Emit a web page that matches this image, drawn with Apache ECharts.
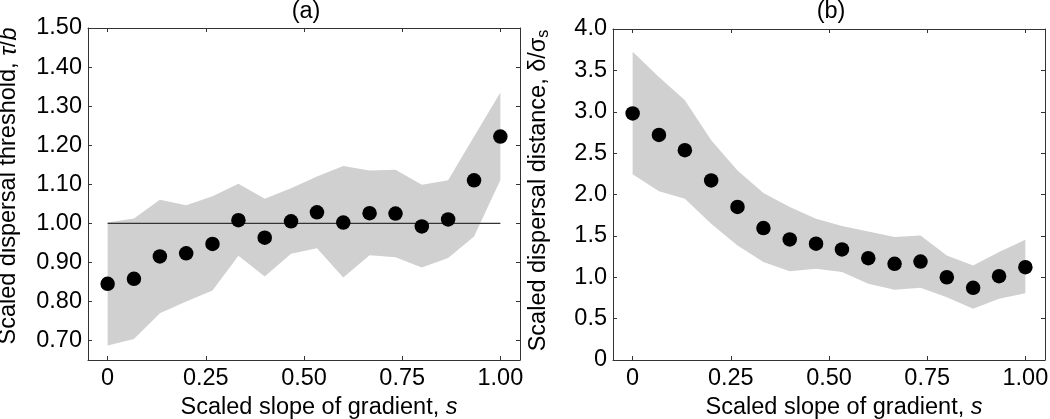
<!DOCTYPE html>
<html><head><meta charset="utf-8">
<script src="https://cdn.jsdelivr.net/npm/echarts@6/dist/echarts.min.js"></script>
<style>html,body{margin:0;padding:0;background:#fff}#c{width:1050px;height:419px}</style>
</head><body><div id="c"></div>
<script>
// Data
const slopes = [0, 0.067, 0.133, 0.2, 0.267, 0.333, 0.4, 0.467, 0.533, 0.6, 0.667, 0.733, 0.8, 0.867, 0.933, 1.0];
const thresholdMean  = [0.845, 0.858, 0.915, 0.923, 0.947, 1.008, 0.963, 1.005, 1.028, 1.002, 1.026, 1.025, 0.992, 1.010, 1.110, 1.222];
const thresholdUpper = [1.002, 1.012, 1.060, 1.046, 1.069, 1.101, 1.063, 1.090, 1.120, 1.147, 1.135, 1.137, 1.099, 1.110, 1.222, 1.335];
const thresholdLower = [0.687, 0.704, 0.770, 0.800, 0.828, 0.917, 0.864, 0.922, 0.936, 0.861, 0.918, 0.913, 0.887, 0.911, 0.966, 1.111];
const distanceMean  = [2.98, 2.72, 2.535, 2.17, 1.85, 1.594, 1.457, 1.405, 1.336, 1.231, 1.162, 1.19, 1.0, 0.872, 1.013, 1.122];
const distanceUpper = [3.725, 3.42, 3.14, 2.656, 2.29, 2.018, 1.849, 1.707, 1.619, 1.554, 1.485, 1.506, 1.263, 1.142, 1.304, 1.453];
const distanceLower = [2.244, 2.038, 1.95, 1.647, 1.384, 1.183, 1.074, 1.102, 1.062, 0.92, 0.848, 0.872, 0.759, 0.618, 0.739, 0.807];
const referenceLine = [[0, 1.0], [1.0, 1.0]];
const xTicks = [0, 0.25, 0.5, 0.75, 1.0];
const yTicksA = [0.7, 0.8, 0.9, 1.0, 1.1, 1.2, 1.3, 1.4, 1.5];
const yTicksB = [0, 0.5, 1.0, 1.5, 2.0, 2.5, 3.0, 3.5, 4.0];

const FONT = '"Liberation Sans", Arial, Helvetica, sans-serif';
const FS = 23.5;
const AX = '#333';

function xFmt(v){ return Math.abs(v) < 1e-9 ? '0' : v.toFixed(2); }
function yFmtA(v){ return v.toFixed(2); }
function yFmtB(v){ return Math.abs(v) < 1e-9 ? '0' : v.toFixed(1); }

function xAxes(gi){
  return [
    { type:'value', gridIndex:gi, position:'bottom', min:-0.05, max:1.05,
      axisLine:{show:true, onZero:false, lineStyle:{color:AX, width:1}},
      axisTick:{show:true, inside:true, length:4, customValues:xTicks, lineStyle:{color:AX}},
      axisLabel:{show:true, customValues:xTicks, formatter:xFmt, color:'#000', fontSize:FS, fontFamily:FONT, margin:7},
      splitLine:{show:false},
      name:'Scaled slope of gradient, {i|s}', nameLocation:'middle', nameGap:30,
      nameTextStyle:{color:'#000', fontSize:FS, fontFamily:FONT, padding:[0,0,0,30],
        rich:{i:{fontStyle:'italic', fontSize:FS, fontFamily:FONT, color:'#000'}}}
    },
    { type:'value', gridIndex:gi, position:'top', min:-0.05, max:1.05,
      axisLine:{show:true, onZero:false, lineStyle:{color:AX, width:1}},
      axisTick:{show:true, inside:true, length:4, customValues:xTicks, lineStyle:{color:AX}},
      axisLabel:{show:false}, splitLine:{show:false}
    }
  ];
}
function yAxes(gi, min, max, ticks, fmt, name, rich, gap, shift){
  return [
    { type:'value', gridIndex:gi, position:'left', min:min, max:max,
      axisLine:{show:true, onZero:false, lineStyle:{color:AX, width:1}},
      axisTick:{show:true, inside:true, length:4, customValues:ticks, lineStyle:{color:AX}},
      axisLabel:{show:true, customValues:ticks, formatter:fmt, color:'#000', fontSize:FS, fontFamily:FONT, margin:6},
      splitLine:{show:false},
      name:name, nameLocation:'middle', nameGap:gap,
      nameTextStyle:{color:'#000', fontSize:FS, fontFamily:FONT, padding:[0,0,0,shift], rich:rich}
    },
    { type:'value', gridIndex:gi, position:'right', min:min, max:max,
      axisLine:{show:true, onZero:false, lineStyle:{color:AX, width:1}},
      axisTick:{show:true, inside:true, length:4, customValues:ticks, lineStyle:{color:AX}},
      axisLabel:{show:false}, splitLine:{show:false}
    }
  ];
}

function band(xi, yi, lower, upper){
  return {
    type:'custom', xAxisIndex:xi, yAxisIndex:yi, silent:true, clip:true, z:1,
    data: slopes.map((x,i)=>[x, lower[i], upper[i]]),
    renderItem: function(params, api){
      if (params.dataIndex !== 0) return null;
      const pts = [];
      for (let i=0;i<slopes.length;i++) pts.push(api.coord([slopes[i], upper[i]]));
      for (let i=slopes.length-1;i>=0;i--) pts.push(api.coord([slopes[i], lower[i]]));
      return { type:'polygon', shape:{points:pts}, style:{fill:'#d0d0d0', stroke:null} };
    }
  };
}

const chart = echarts.init(document.getElementById('c'), null, {renderer:'canvas'});
const italic = {fontStyle:'italic', fontSize:FS, fontFamily:FONT, color:'#000'};
chart.setOption({
  animation:false,
  backgroundColor:'#fff',
  title:[
    {text:'(a)', left:306, top:0, textAlign:'center', padding:0, textStyle:{fontSize:FS, fontWeight:'normal', fontFamily:FONT, color:'#000'}},
    {text:'(b)', left:831, top:0, textAlign:'center', padding:0, textStyle:{fontSize:FS, fontWeight:'normal', fontFamily:FONT, color:'#000'}}
  ],
  grid:[
    {left:88, top:28, width:432, height:332, containLabel:false, outerBoundsMode:'none'},
    {left:613, top:29, width:432, height:331, containLabel:false, outerBoundsMode:'none'}
  ],
  xAxis: xAxes(0).concat(xAxes(1)),
  yAxis: yAxes(0, 0.65, 1.5, yTicksA, yFmtA, 'Scaled dispersal threshold, {i|τ}/{i|b}', {i:italic}, 67, 16)
    .concat(yAxes(1, 0, 4, yTicksB, yFmtB, 'Scaled dispersal distance, δ/σ{sub|s}',
      {sub:{fontSize:16, fontFamily:FONT, color:'#000', verticalAlign:'bottom', padding:[10,0,0,0]}}, 61, 8)),
  series:[
    band(0, 0, thresholdLower, thresholdUpper),
    { type:'line', xAxisIndex:0, yAxisIndex:0, data:referenceLine, symbol:'none', silent:true, z:2,
      lineStyle:{color:'#333', width:1.2} },
    { type:'scatter', xAxisIndex:0, yAxisIndex:0, data:slopes.map((x,i)=>[x, thresholdMean[i]]),
      symbol:'circle', symbolSize:14.5, itemStyle:{color:'#000', opacity:1}, z:3 },
    band(2, 2, distanceLower, distanceUpper),
    { type:'scatter', xAxisIndex:2, yAxisIndex:2, data:slopes.map((x,i)=>[x, distanceMean[i]]),
      symbol:'circle', symbolSize:14.5, itemStyle:{color:'#000', opacity:1}, z:3 }
  ]
});
</script>
</body></html>
